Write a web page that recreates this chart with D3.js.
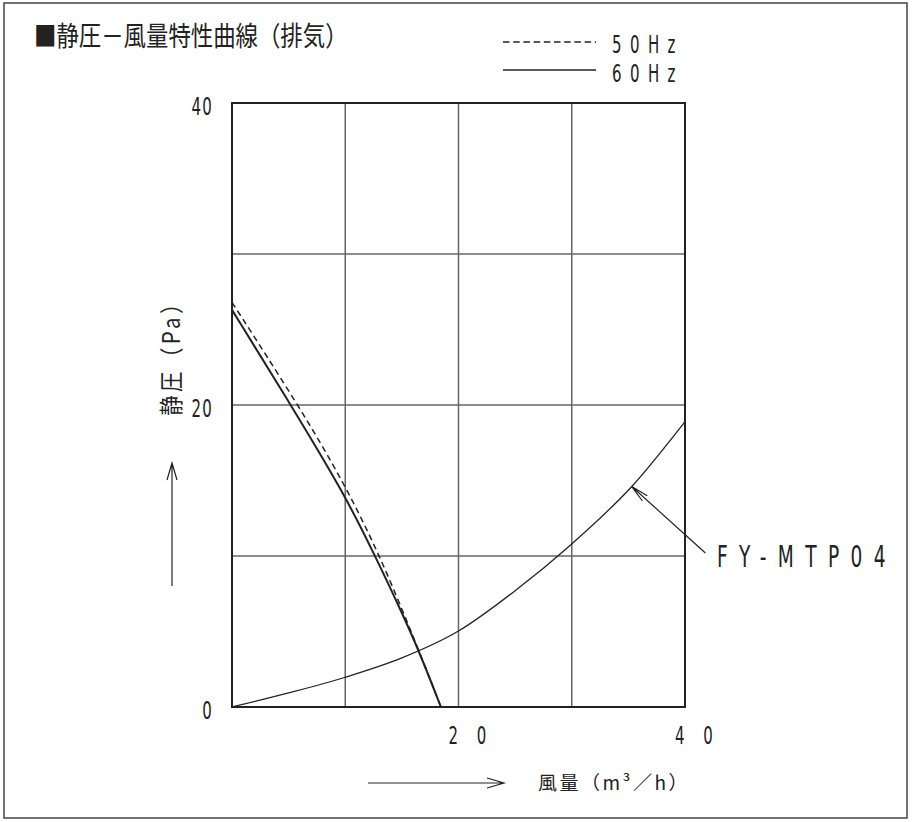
<!DOCTYPE html>
<html>
<head>
<meta charset="utf-8">
<script src="https://cdn.jsdelivr.net/npm/d3@7"></script>
<style>
  body { margin: 0; background: #fff; }
  text { fill: #222; }
  .num { font-family: "DejaVu Sans", sans-serif; }
  .jp { font-family: "Noto Sans CJK JP", sans-serif; }
</style>
</head>
<body>
<svg id="chart" width="912" height="822"></svg>
<script>
// grid / ticks
var gridTicks = [0, 10, 20, 30, 40]
var xLabels = [20, 40]
var yLabels = [0, 20, 40]

// 60Hz fan curve (m3/h, Pa)
var flow60 = [0, 5.2, 10, 12.57, 14.9, 16.54, 18.45]
var ps60 = [26.3, 20, 14.0, 10.1, 6.42, 3.66, 0]

// 50Hz fan curve
var flow50 = [0, 5.86, 10, 12.92, 15.0, 16.54, 18.45]
var ps50 = [26.8, 20, 14.7, 10.2, 6.5, 3.66, 0]

// duct resistance curve FY-MTP04
var sysFlow = [0, 5, 10, 15, 20, 25, 30, 35.3, 40]
var sysPs = [0, 0.93, 1.97, 3.25, 5.03, 7.7, 10.8, 14.6, 18.9]

var svg = d3.select("#chart")

var pLeft = 232, pRight = 685, pTop = 103, pBottom = 707

var x = d3.scaleLinear().domain([0, 40]).range([pLeft, pRight])
var y = d3.scaleLinear().domain([0, 40]).range([pBottom, pTop])

// narrow CAD-like text: squeeze horizontally
function narrow(g, px, py, str, size, ls, sx, anchor) {
    return g.append("text")
        .attr("class", "num")
        .attr("transform", "translate(" + px + "," + py + ") scale(" + sx + ",1)")
        .attr("text-anchor", anchor || "start")
        .attr("font-size", size)
        .attr("letter-spacing", ls)
        .text(str)
}

// outer frame
svg.append("rect")
    .attr("x", 4).attr("y", 3)
    .attr("width", 903).attr("height", 815)
    .attr("fill", "none")
    .attr("stroke", "#444")
    .attr("stroke-width", 1.5)

// title
svg.append("text")
    .attr("class", "jp")
    .attr("transform", "translate(34,46) scale(0.83,1)")
    .attr("font-size", 27)
    .text("■静圧－風量特性曲線（排気）")

// legend
svg.append("line")
    .attr("x1", 503).attr("x2", 596).attr("y1", 42).attr("y2", 42)
    .attr("stroke", "#222").attr("stroke-width", 1.3)
    .attr("stroke-dasharray", "6.5,3.7")
svg.append("line")
    .attr("x1", 503).attr("x2", 596).attr("y1", 70).attr("y2", 70)
    .attr("stroke", "#222").attr("stroke-width", 1.3)
var legendText = ["50Hz", "60Hz"]
legendText.forEach(function(d, i) {
    narrow(svg, 612, 53 + i * 29, d, 25, 14, 0.6)
})

// grid
var grid = svg.append("g")
grid.selectAll(".gx")
    .data(gridTicks.slice(1, -1))
  .enter().append("line")
    .attr("x1", function(d) { return x(d) })
    .attr("x2", function(d) { return x(d) })
    .attr("y1", pTop).attr("y2", pBottom)
    .attr("stroke", "#666").attr("stroke-width", 1.5)
grid.selectAll(".gy")
    .data(gridTicks.slice(1, -1))
  .enter().append("line")
    .attr("y1", function(d) { return y(d) })
    .attr("y2", function(d) { return y(d) })
    .attr("x1", pLeft).attr("x2", pRight)
    .attr("stroke", "#666").attr("stroke-width", 1.5)

svg.append("rect")
    .attr("x", pLeft).attr("y", pTop)
    .attr("width", pRight - pLeft).attr("height", pBottom - pTop)
    .attr("fill", "none")
    .attr("stroke", "#222").attr("stroke-width", 2)

// tick labels
yLabels.forEach(function(d) {
    narrow(svg, 213, y(d) + 12, String(d), 25, 2, 0.6, "end")
})
xLabels.forEach(function(d) {
    narrow(svg, x(d) - 10, 744, String(d), 25, 31, 0.6)
})

// axis titles
svg.append("text")
    .attr("class", "jp")
    .attr("transform", "translate(180,353) rotate(-90) scale(0.85,1)")
    .attr("text-anchor", "middle")
    .attr("font-size", 24)
    .attr("letter-spacing", 4)
    .text("静圧（Pa）")

svg.append("text")
    .attr("class", "jp")
    .attr("x", 538).attr("y", 790)
    .attr("font-size", 19)
    .attr("letter-spacing", 2.5)
    .text("風量（m³／h）")

// axis arrows
svg.append("path")
    .attr("d", "M172,586V463M167,480L172,463L177,480")
    .attr("fill", "none").attr("stroke", "#222").attr("stroke-width", 1.2)
svg.append("path")
    .attr("d", "M368,783H504M487,778L504,783L487,788")
    .attr("fill", "none").attr("stroke", "#222").attr("stroke-width", 1.2)

// curves
var line = d3.line()
    .x(function(d) { return x(d[0]) })
    .y(function(d) { return y(d[1]) })
    .curve(d3.curveMonotoneX)

var fanLine = d3.line()
    .x(function(d) { return x(d[0]) })
    .y(function(d) { return y(d[1]) })
    .curve(d3.curveBasis)

svg.append("path")
    .datum(d3.zip(sysFlow, sysPs))
    .attr("d", line)
    .attr("fill", "none").attr("stroke", "#222").attr("stroke-width", 1.3)

svg.append("path")
    .datum(d3.zip(flow50, ps50))
    .attr("d", fanLine)
    .attr("fill", "none").attr("stroke", "#222").attr("stroke-width", 1.5)
    .attr("stroke-dasharray", "6,4")

svg.append("path")
    .datum(d3.zip(flow60, ps60))
    .attr("d", fanLine)
    .attr("fill", "none").attr("stroke", "#222").attr("stroke-width", 2)

// FY-MTP04 leader
var tip = [35.3, 14.6], tail = [41.8, 10.2]
var tx = x(tip[0]), ty = y(tip[1]), ex = x(tail[0]), ey = y(tail[1])
var ang = Math.atan2(ey - ty, ex - tx)
svg.append("path")
    .attr("d", "M" + ex + "," + ey + "L" + tx + "," + ty +
        "M" + (tx + 18 * Math.cos(ang - 0.2)) + "," + (ty + 18 * Math.sin(ang - 0.2)) +
        "L" + tx + "," + ty +
        "L" + (tx + 18 * Math.cos(ang + 0.2)) + "," + (ty + 18 * Math.sin(ang + 0.2)))
    .attr("fill", "none").attr("stroke", "#222").attr("stroke-width", 1.2)

narrow(svg, 717, 567, "FY-MTP04", 31, 19, 0.6)
</script>
</body>
</html>
